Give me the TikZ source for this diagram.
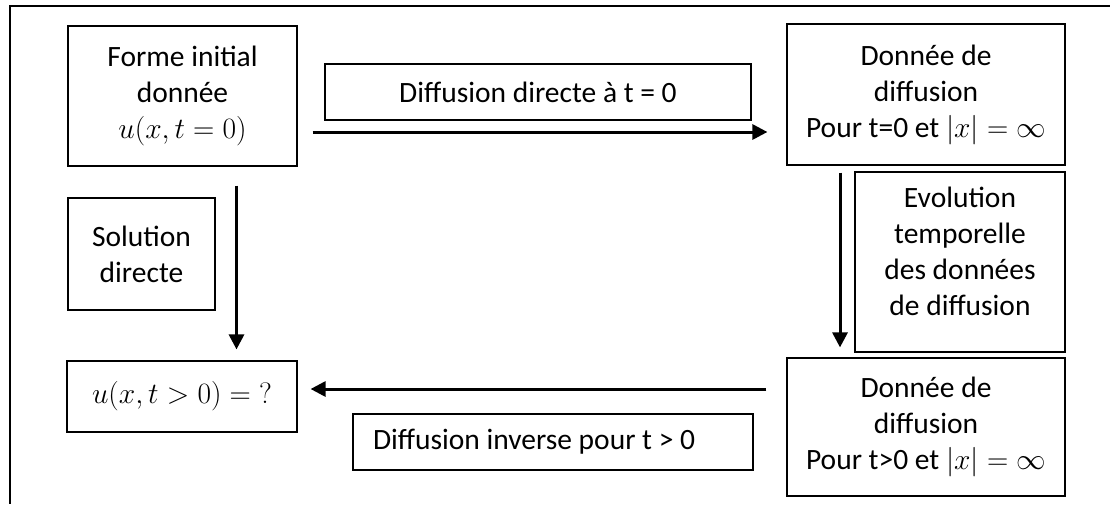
\RequirePackage{fix-cm}
\documentclass[tikz,border=0pt]{standalone}
\usepackage{fontspec}
\setmainfont{Carlito}
\usetikzlibrary{arrows.meta}

\tikzset{
  box/.style={draw, line width=1.2pt, fill=white, align=center, inner sep=0pt,
              font=\fontsize{29.5}{36}\selectfont},
  plain/.style={align=center, inner sep=0pt, font=\fontsize{29.5}{36}\selectfont},
  flow/.style={line width=3pt, -{Triangle[length=15pt,width=15pt]}},
  frame/.style={line width=1.5pt}
}

\begin{document}
\begin{tikzpicture}[x=1pt, y=-1pt]
  \useasboundingbox (0,0) rectangle (1110,504);

  % partial frame (top and left edges)
  \draw[frame] (1110,6) -- (10,6) -- (10,504);

  % main boxes
  \node[box, minimum width=229pt, minimum height=140pt] (A) at (182.5,96)
    {Forme initial\\donnée\\$u(x,t=0)$};
  \node[box, minimum width=278pt, minimum height=141pt] (B) at (926,94.5)
    {Donnée de\\diffusion\\Pour t=0 et $|x|=\infty$};
  \node[box, minimum width=230pt, minimum height=71pt] (C) at (182,396.5)
    {$u(x,t>0)={?}$};
  \node[box, minimum width=278pt, minimum height=138pt] (D) at (926,427)
    {Donnée de\\diffusion\\Pour t>0 et $|x|=\infty$};

  % label boxes
  \node[box, minimum width=426pt, minimum height=56pt] (lbl1) at (538,92)
    {Diffusion directe à t = 0};
  \node[box, text width=360pt, inner xsep=20pt, align=flush left, minimum height=56pt]
    (lbl2) at (553,442) {Diffusion inverse pour t > 0};
  \node[box, minimum width=147pt, minimum height=112pt] (lbl3) at (141.5,254)
    {Solution\\directe};
  \node[box, minimum width=210pt, minimum height=180pt] (lbl4) at (960,262) {};
  \node[plain] (lbl4text) at (960,251)
    {Evolution\\temporelle\\des données\\de diffusion};

  % connectors
  \coordinate (s1) at ([shift={(15,36)}]A.east);
  \draw[flow, shorten >=19pt] (s1) -- (s1 -| B.west);

  \coordinate (s2) at ([shift={(-86,7)}]B.south);
  \draw[flow, shorten >=10pt] (s2) -- (s2 |- D.north);

  \coordinate (s3) at ([shift={(-20,-38)}]D.west);
  \draw[flow, shorten >=13pt] (s3) -- (s3 -| C.east);

  \coordinate (s4) at ([shift={(54,19)}]A.south);
  \draw[flow, shorten >=11pt] (s4) -- (s4 |- C.north);
\end{tikzpicture}
\end{document}
